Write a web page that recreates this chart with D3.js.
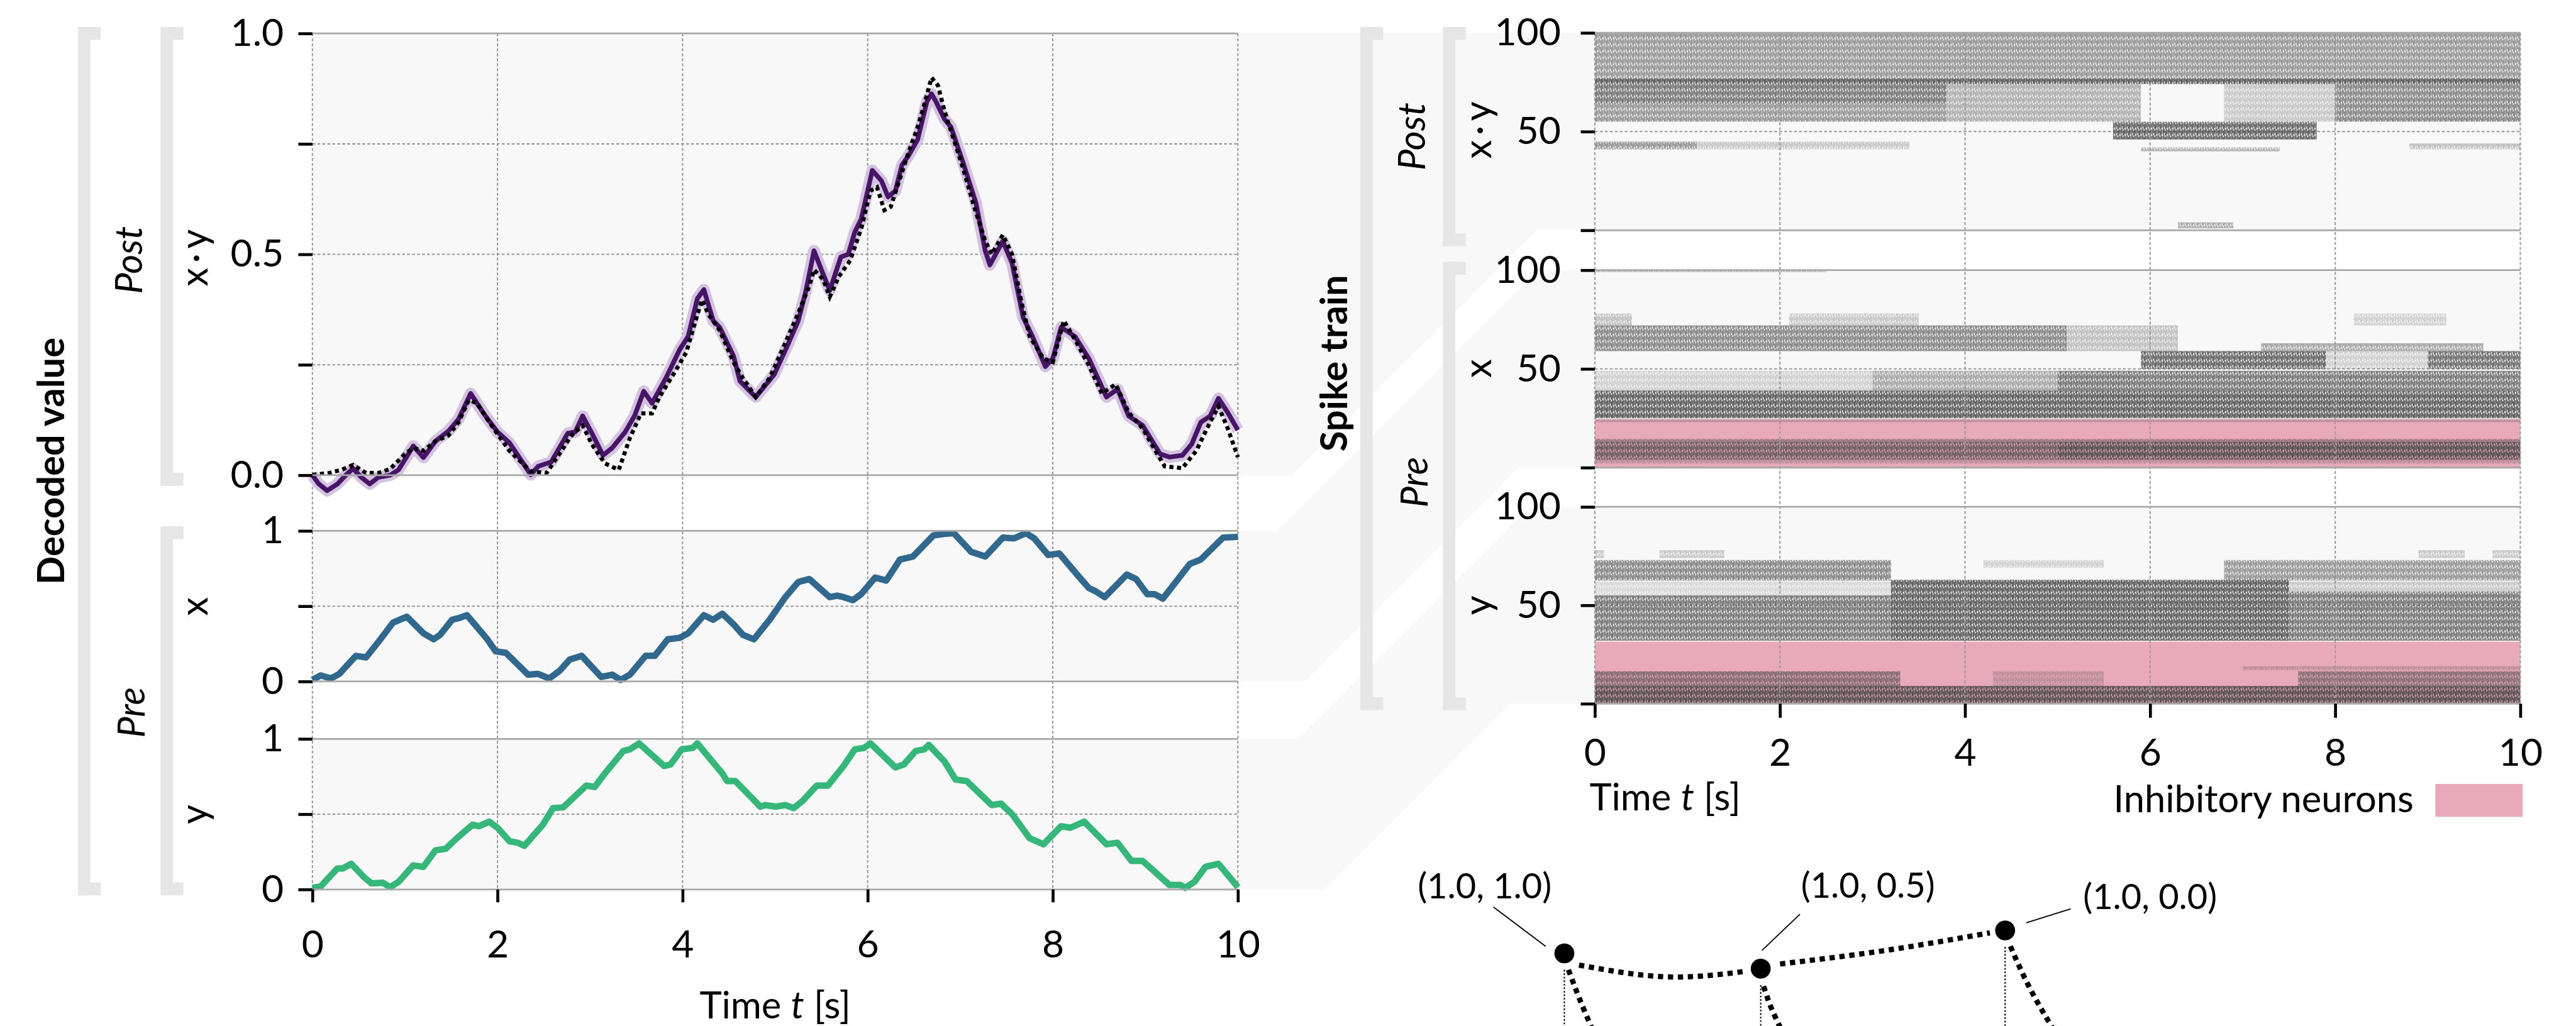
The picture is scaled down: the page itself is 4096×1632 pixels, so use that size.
<!DOCTYPE html>
<html>
<head>
<meta charset="utf-8">
<script src="https://cdn.jsdelivr.net/npm/d3@7"></script>
<style>
body { margin: 0; background: #fff; }
svg { display: block; }
</style>
</head>
<body>
<script>
// time axis shared by all panels
var timeTicks = [0, 2, 4, 6, 8, 10];

// pre-synaptic inputs x and y [t, value]
var xTrace = [[0,0.01],[0.09,0.04],[0.2,0.02],[0.29,0.05],[0.47,0.17],[0.58,0.16],[0.71,0.26],[0.87,0.39],[1.02,0.43],[1.2,0.32],[1.31,0.28],[1.38,0.31],[1.51,0.41],[1.58,0.42],[1.67,0.44],[1.89,0.28],[1.98,0.2],[2.09,0.19],[2.33,0.045],[2.44,0.05],[2.56,0.02],[2.67,0.07],[2.78,0.145],[2.91,0.17],[3.12,0.03],[3.24,0.045],[3.33,0.01],[3.43,0.045],[3.6,0.17],[3.7,0.17],[3.84,0.28],[3.97,0.29],[4.06,0.32],[4.23,0.44],[4.33,0.41],[4.43,0.45],[4.55,0.38],[4.65,0.31],[4.77,0.28],[4.94,0.41],[5.11,0.56],[5.25,0.66],[5.37,0.68],[5.59,0.56],[5.67,0.57],[5.74,0.56],[5.84,0.54],[5.93,0.58],[6.08,0.69],[6.2,0.67],[6.35,0.81],[6.49,0.83],[6.71,0.97],[6.83,0.98],[6.93,0.985],[7.12,0.86],[7.27,0.83],[7.46,0.955],[7.58,0.95],[7.71,0.985],[7.8,0.95],[7.95,0.84],[8.07,0.85],[8.29,0.69],[8.39,0.62],[8.46,0.6],[8.56,0.56],[8.8,0.71],[8.9,0.68],[9.02,0.58],[9.1,0.58],[9.19,0.55],[9.48,0.78],[9.6,0.81],[9.84,0.955],[10,0.96]];

var yTrace = [[0,0.01],[0.09,0.02],[0.27,0.14],[0.33,0.14],[0.42,0.17],[0.56,0.08],[0.64,0.04],[0.76,0.045],[0.84,0.015],[0.93,0.05],[1.09,0.16],[1.2,0.15],[1.33,0.26],[1.44,0.27],[1.56,0.34],[1.73,0.43],[1.8,0.42],[1.91,0.45],[2,0.41],[2.13,0.32],[2.22,0.31],[2.29,0.29],[2.49,0.43],[2.6,0.54],[2.71,0.545],[2.96,0.69],[3.05,0.68],[3.16,0.77],[3.36,0.92],[3.43,0.93],[3.53,0.97],[3.8,0.82],[3.87,0.83],[3.99,0.93],[4.11,0.94],[4.16,0.97],[4.28,0.88],[4.43,0.77],[4.48,0.72],[4.57,0.72],[4.84,0.55],[4.89,0.56],[5.01,0.55],[5.11,0.56],[5.2,0.54],[5.3,0.59],[5.45,0.69],[5.57,0.69],[5.74,0.82],[5.86,0.93],[5.96,0.94],[6.03,0.97],[6.3,0.81],[6.39,0.83],[6.52,0.92],[6.61,0.93],[6.66,0.96],[6.83,0.85],[6.95,0.73],[7.07,0.72],[7.34,0.56],[7.44,0.57],[7.56,0.5],[7.75,0.34],[7.9,0.3],[8.09,0.42],[8.19,0.41],[8.34,0.45],[8.58,0.3],[8.7,0.31],[8.85,0.19],[8.97,0.19],[9.26,0.03],[9.38,0.03],[9.43,0.01],[9.53,0.05],[9.65,0.15],[9.79,0.17],[10,0.015]];

// post-synaptic decoded value and the dotted target
var decodedTrace = [[0,0],[0.07,-0.02],[0.16,-0.035],[0.27,-0.02],[0.36,0],[0.44,0.015],[0.53,-0.005],[0.62,-0.02],[0.71,-0.005],[0.84,0],[0.93,0.012],[1.09,0.066],[1.2,0.04],[1.33,0.077],[1.47,0.1],[1.58,0.127],[1.71,0.185],[1.8,0.156],[1.87,0.134],[2,0.098],[2.13,0.073],[2.36,0.001],[2.44,0.02],[2.58,0.03],[2.76,0.095],[2.84,0.098],[2.92,0.134],[3.02,0.095],[3.14,0.045],[3.24,0.062],[3.38,0.098],[3.48,0.134],[3.58,0.19],[3.67,0.163],[3.82,0.22],[3.97,0.285],[4.06,0.314],[4.16,0.4],[4.23,0.42],[4.33,0.35],[4.4,0.335],[4.55,0.27],[4.62,0.213],[4.79,0.177],[4.99,0.228],[5.13,0.292],[5.25,0.35],[5.33,0.415],[5.42,0.508],[5.5,0.465],[5.59,0.418],[5.71,0.494],[5.79,0.5],[5.86,0.55],[5.93,0.58],[6.05,0.69],[6.15,0.666],[6.22,0.63],[6.3,0.644],[6.37,0.702],[6.44,0.723],[6.54,0.76],[6.64,0.846],[6.69,0.863],[6.73,0.849],[6.83,0.806],[6.9,0.788],[7.03,0.708],[7.17,0.616],[7.27,0.508],[7.32,0.476],[7.46,0.53],[7.56,0.48],[7.68,0.357],[7.78,0.314],[7.92,0.246],[8,0.264],[8.09,0.335],[8.24,0.314],[8.39,0.264],[8.58,0.177],[8.7,0.195],[8.82,0.134],[8.97,0.113],[9.16,0.048],[9.26,0.041],[9.4,0.045],[9.5,0.07],[9.6,0.12],[9.7,0.134],[9.79,0.174],[9.89,0.142],[10,0.102]];

var targetTrace = [[0,0.001],[0.18,0.005],[0.31,0.012],[0.44,0.023],[0.58,0.005],[0.71,0.005],[0.84,0.014],[1,0.048],[1.09,0.062],[1.2,0.055],[1.33,0.077],[1.47,0.09],[1.58,0.12],[1.69,0.17],[1.78,0.163],[1.91,0.12],[2.13,0.055],[2.36,0.009],[2.53,0.005],[2.69,0.055],[2.8,0.09],[2.92,0.113],[3.02,0.07],[3.16,0.027],[3.31,0.012],[3.43,0.084],[3.55,0.14],[3.67,0.14],[3.75,0.177],[3.92,0.235],[4.04,0.278],[4.14,0.35],[4.21,0.397],[4.28,0.364],[4.4,0.328],[4.55,0.256],[4.65,0.22],[4.79,0.177],[4.94,0.22],[5.08,0.285],[5.23,0.357],[5.37,0.429],[5.42,0.465],[5.52,0.443],[5.59,0.404],[5.69,0.45],[5.81,0.486],[5.93,0.558],[6.03,0.644],[6.1,0.652],[6.18,0.6],[6.25,0.608],[6.35,0.673],[6.44,0.73],[6.54,0.788],[6.61,0.838],[6.69,0.9],[6.76,0.882],[6.83,0.824],[6.93,0.76],[7.03,0.695],[7.15,0.608],[7.27,0.53],[7.34,0.5],[7.46,0.544],[7.56,0.5],[7.66,0.393],[7.75,0.314],[7.9,0.264],[8,0.256],[8.12,0.35],[8.24,0.307],[8.39,0.249],[8.53,0.185],[8.68,0.206],[8.82,0.142],[8.97,0.106],[9.11,0.055],[9.21,0.02],[9.4,0.016],[9.55,0.055],[9.7,0.12],[9.79,0.156],[9.89,0.106],[10,0.041]];

// spike raster, as density bands: [neuronFrom, neuronTo, tFrom, tTo, density]
var postBands = [[77,100,0,10,0.6],[74,77,0,10,0.95],[64,74,0,3.8,0.8],[55,64,0,3.8,0.6],[55,74,3.8,5.9,0.45],[55,74,6.8,8,0.3],[55,74,8,10,0.7],[46,55,5.6,7.8,0.9],[41,45,0,1.1,0.6],[41,45,1.1,3.4,0.3],[40,42,5.9,7.4,0.45],[41,44,8.8,10,0.35],[1,4,6.3,6.9,0.5]];
var xBands = [[99,100,0,2.5,0.45],[72,78,0,0.4,0.35],[72,78,2.1,3.5,0.3],[72,78,8.2,9.2,0.25],[59,72,0,5.1,0.7],[59,72,5.1,6.3,0.35],[59,63,7.2,9.6,0.5],[50,59,5.9,7.9,0.9],[50,59,7.9,9,0.25],[50,59,9,10,0.85],[39,49,0,3,0.25],[39,49,3,5,0.5],[39,49,5,10,0.8],[25,39,0,10,0.95],[23,24.5,0,10,0.3],[13,14.5,0,10,0.55],[4,13,0,5,0.85],[4,13,5,10,1],[2,4,0,10,0.3]];
var yBands = [[74,78,0,0.1,0.3],[74,78,0.7,1.4,0.3],[74,78,8.9,9.4,0.3],[74,78,9.7,10,0.3],[62.5,73,0,3.2,0.7],[69,73,4.2,5.5,0.25],[62.5,73,6.8,10,0.6],[55,62,0,3.2,0.2],[32,55,0,3.2,0.8],[32,63,3.2,7.5,0.95],[32,57,7.5,10,0.8],[57,62,7.5,10,0.3],[17,19,7,10,0.3],[9,16.5,0,3.3,0.7],[9,16.5,4.3,5.5,0.3],[9,16.5,7.6,10,0.65],[0,9,0,10,1]];

// inhibitory neuron ranges per ensemble
var xInhibitory = [0, 24.6];
var yInhibitory = [0, 31.5];

// lower schematic: nodes and their labels
var nodeLabels = ["(1.0, 1.0)", "(1.0, 0.5)", "(1.0, 0.0)"];
var nodeU = [0, 0.4455, 1];
var nodeV = [0.76, 0.6, 1];

// ---------------------------------------------------------------------------
var W = 4395, H = 1751;
var svg = d3.select("body").append("svg")
  .attr("width", 4096).attr("height", 1632)
  .attr("viewBox", "0 0 " + W + " " + H);

var font = "Lato, 'Open Sans', sans-serif";
var gridColor = "#9a9a9a", spineColor = "#a8a8a8", bgColor = "#f8f8f8";

var defs = svg.append("defs");
var pat = defs.append("pattern").attr("id", "spikes")
  .attr("patternUnits", "userSpaceOnUse").attr("width", 9).attr("height", 11);
[[0.8,0,11],[2.5,0,7],[4.2,3,11],[5.9,0,11],[7.6,1,9]].forEach(function(l) {
  pat.append("line").attr("x1", l[0]).attr("x2", l[0]).attr("y1", l[1]).attr("y2", l[2])
    .attr("stroke", "#4a4a4a").attr("stroke-width", 1.6);
});

var tLeft = d3.scaleLinear().domain([0, 10]).range([533, 2112]);
var tRight = d3.scaleLinear().domain([0, 10]).range([2721, 4300]);

var leftPanels = [
  {top: 57, bottom: 811, ticks: [0, 0.25, 0.5, 0.75, 1], labeled: [0, 0.5, 1], fmt: d3.format(".1f"), grid: [0.25, 0.5, 0.75]},
  {top: 906, bottom: 1163, ticks: [0, 0.5, 1], labeled: [0, 1], fmt: d3.format("d"), grid: [0.5]},
  {top: 1261, bottom: 1518, ticks: [0, 0.5, 1], labeled: [0, 1], fmt: d3.format("d"), grid: [0.5]}
];
leftPanels.forEach(function(p) { p.y = d3.scaleLinear().domain([0, 1]).range([p.bottom, p.top]); });

var rightPanels = [
  {top: 56, bottom: 393, bands: postBands, inhib: null},
  {top: 461, bottom: 798, bands: xBands, inhib: xInhibitory},
  {top: 865, bottom: 1201, bands: yBands, inhib: yInhibitory}
];
rightPanels.forEach(function(p) { p.y = d3.scaleLinear().domain([0, 100]).range([p.bottom, p.top]); });

// light connectors between left and right panels
var connectorBreaks = [[2112, 2204], [2179, 2226], [2215, 2260]];
var conn = svg.append("g");
leftPanels.forEach(function(lp, i) {
  var rp = rightPanels[i], b = connectorBreaks[i];
  var topStart = i === 0 ? 2112 : b[0];
  var dTop = lp.top - rp.top, dBot = lp.bottom - rp.bottom;
  var pts = [[2112, lp.top], [topStart, lp.top], [topStart + dTop, rp.top], [2721, rp.top],
             [2721, rp.bottom], [b[1] + dBot, rp.bottom], [b[1], lp.bottom], [2112, lp.bottom]];
  conn.append("path").attr("d", "M" + pts.join("L") + "Z").attr("fill", bgColor);
});

// brackets
function bracket(x, y0, y1) {
  var g = svg.append("g").attr("fill", "#e6e6e6");
  g.append("rect").attr("x", x).attr("y", y0).attr("width", 21).attr("height", y1 - y0);
  g.append("rect").attr("x", x).attr("y", y0).attr("width", 39).attr("height", 22);
  g.append("rect").attr("x", x).attr("y", y1 - 22).attr("width", 39).attr("height", 22);
}
bracket(133, 46, 1528); bracket(274, 46, 829); bracket(274, 898, 1528);
bracket(2321, 46, 1212); bracket(2462, 46, 420); bracket(2462, 447, 1212);

// panel backgrounds
leftPanels.forEach(function(p) {
  svg.append("rect").attr("x", tLeft(0)).attr("y", p.top).attr("width", tLeft(10) - tLeft(0))
    .attr("height", p.bottom - p.top).attr("fill", bgColor);
});
rightPanels.forEach(function(p) {
  svg.append("rect").attr("x", tRight(0)).attr("y", p.top).attr("width", tRight(10) - tRight(0))
    .attr("height", p.bottom - p.top).attr("fill", bgColor);
});

// grids
function hgrid(scale, vals, x0, x1) {
  svg.append("g").selectAll("line").data(vals).join("line")
    .attr("x1", x0).attr("x2", x1).attr("y1", scale).attr("y2", scale)
    .attr("stroke", gridColor).attr("stroke-width", 2.2).attr("stroke-dasharray", "5 3.5");
}
leftPanels.forEach(function(p) { hgrid(p.y, p.grid, tLeft(0), tLeft(10)); });
rightPanels.forEach(function(p) { hgrid(p.y, [50], tRight(0), tRight(10)); });

// raster: inhibitory highlight then spike density
rightPanels.forEach(function(p) {
  if (p.inhib) {
    svg.append("rect").attr("x", tRight(0)).attr("width", tRight(10) - tRight(0))
      .attr("y", p.y(p.inhib[1])).attr("height", p.y(p.inhib[0]) - p.y(p.inhib[1]))
      .attr("fill", "#e8aab8");
  }
  svg.append("g").selectAll("rect").data(p.bands).join("rect")
    .attr("x", function(d) { return tRight(d[2]); })
    .attr("width", function(d) { return tRight(d[3]) - tRight(d[2]); })
    .attr("y", function(d) { return p.y(d[1]); })
    .attr("height", function(d) { return p.y(d[0]) - p.y(d[1]); })
    .attr("fill", "url(#spikes)").attr("opacity", function(d) { return d[4]; });
});

function vgrid(scale, y0, y1) {
  svg.append("g").selectAll("line").data(timeTicks).join("line")
    .attr("x1", scale).attr("x2", scale).attr("y1", y0).attr("y2", y1)
    .attr("stroke", gridColor).attr("stroke-width", 2.2).attr("stroke-dasharray", "5 3.5");
}
vgrid(tLeft, 57, 1518);
vgrid(tRight, 56, 1201);

// traces
function lineFor(p) {
  return d3.line().x(function(d) { return tLeft(d[0]); }).y(function(d) { return p.y(d[1]); });
}
var post = leftPanels[0];
svg.append("path").attr("d", lineFor(post)(decodedTrace)).attr("fill", "none")
  .attr("stroke", "#d3c3df").attr("stroke-width", 20).attr("stroke-linejoin", "round");
svg.append("path").attr("d", lineFor(post)(decodedTrace)).attr("fill", "none")
  .attr("stroke", "#481467").attr("stroke-width", 8).attr("stroke-linejoin", "round");
svg.append("path").attr("d", lineFor(post)(targetTrace)).attr("fill", "none")
  .attr("stroke", "#000").attr("stroke-width", 7).attr("stroke-dasharray", "7 6");
svg.append("path").attr("d", lineFor(leftPanels[1])(xTrace)).attr("fill", "none")
  .attr("stroke", "#31688e").attr("stroke-width", 11).attr("stroke-linejoin", "round");
svg.append("path").attr("d", lineFor(leftPanels[2])(yTrace)).attr("fill", "none")
  .attr("stroke", "#35b779").attr("stroke-width", 11).attr("stroke-linejoin", "round");

// spines (top / bottom)
function spines(x0, x1, p) {
  svg.append("g").selectAll("line").data([p.top, p.bottom]).join("line")
    .attr("x1", x0).attr("x2", x1).attr("y1", function(d) { return d; }).attr("y2", function(d) { return d; })
    .attr("stroke", spineColor).attr("stroke-width", 3);
}
leftPanels.forEach(function(p) { spines(tLeft(0), tLeft(10), p); });
rightPanels.forEach(function(p) { spines(tRight(0), tRight(10), p); });

// axes
function styleAxis(g) {
  g.attr("font-size", 65).attr("font-family", font);
  g.select(".domain").remove();
  g.selectAll(".tick line").attr("stroke", "#000").attr("stroke-width", 5);
  g.selectAll(".tick text").attr("fill", "#000");
}
leftPanels.forEach(function(p) {
  var ax = d3.axisLeft(p.y).tickValues(p.ticks).tickSize(24).tickPadding(25)
    .tickFormat(function(v) { return p.labeled.indexOf(v) >= 0 ? p.fmt(v) : ""; });
  svg.append("g").attr("transform", "translate(" + tLeft(0) + ",0)").call(ax).call(styleAxis);
});
rightPanels.forEach(function(p) {
  var ax = d3.axisLeft(p.y).tickValues([0, 50, 100]).tickSize(24).tickPadding(34)
    .tickFormat(function(v) { return v === 0 ? "" : d3.format("d")(v); });
  svg.append("g").attr("transform", "translate(" + tRight(0) + ",0)").call(ax).call(styleAxis);
});
svg.append("g").attr("transform", "translate(0,1518)")
  .call(d3.axisBottom(tLeft).tickValues(timeTicks).tickSize(22).tickPadding(48)).call(styleAxis);
svg.append("g").attr("transform", "translate(0,1201)")
  .call(d3.axisBottom(tRight).tickValues(timeTicks).tickSize(24).tickPadding(36)).call(styleAxis);

// axis titles
function timeLabel(x, y, anchor) {
  var t = svg.append("text").attr("x", x).attr("y", y).attr("text-anchor", anchor)
    .attr("font-family", font).attr("font-size", 64);
  t.append("tspan").text("Time ");
  t.append("tspan").attr("font-style", "italic").text("t");
  t.append("tspan").text(" [s]");
}
timeLabel(tLeft(5), 1738, "middle");
timeLabel(2712, 1383, "start");

var sideLabels = [
  {text: "Decoded value", x: 109, y: 787, weight: 700},
  {text: "Post", x: 242, y: 444, italic: true},
  {text: "x\u2009\u00b7\u2009y", x: 354, y: 440},
  {text: "Pre", x: 247, y: 1216, italic: true},
  {text: "x", x: 354, y: 1035},
  {text: "y", x: 354, y: 1390},
  {text: "Spike train", x: 2298, y: 620, weight: 700},
  {text: "Post", x: 2431, y: 233, italic: true},
  {text: "x\u2009\u00b7\u2009y", x: 2544, y: 222},
  {text: "x", x: 2544, y: 629},
  {text: "Pre", x: 2436, y: 823, italic: true},
  {text: "y", x: 2544, y: 1033}
];
svg.append("g").selectAll("text").data(sideLabels).join("text")
  .attr("transform", function(d) { return "translate(" + d.x + "," + d.y + ") rotate(-90)"; })
  .attr("text-anchor", "middle").attr("font-family", font).attr("font-size", 64)
  .attr("font-weight", function(d) { return d.weight || 400; })
  .attr("font-style", function(d) { return d.italic ? "italic" : "normal"; })
  .text(function(d) { return d.text; });

// legend
svg.append("text").attr("x", 4118).attr("y", 1386).attr("text-anchor", "end")
  .attr("font-family", font).attr("font-size", 64).text("Inhibitory neurons");
svg.append("rect").attr("x", 4155).attr("y", 1338).attr("width", 149).attr("height", 56).attr("fill", "#e8aab8");

// schematic below the raster
var dX = d3.scaleLinear().domain([0, 1]).range([2669, 3421]);
var dY = d3.scaleLinear().domain([0, 1]).range([1751, 1588]);
var nodes = nodeLabels.map(function(l, i) { return {label: l, x: dX(nodeU[i]), y: dY(nodeV[i])}; });
var curve = d3.line().curve(d3.curveNatural);
var n = nodes;
var thick = [
  [[n[0].x + 25, n[0].y + 20], [n[0].x + 172, n[0].y + 40], [n[1].x - 29, n[1].y + 5]],
  [[n[1].x + 33, n[1].y - 8], [n[1].x + 212, n[1].y - 31], [n[2].x - 26, n[2].y + 4]],
  [[n[0].x + 7, n[0].y + 28], [n[0].x + 26, n[0].y + 78], [n[0].x + 50, n[0].y + 135]],
  [[n[1].x + 5, n[1].y + 30], [n[1].x + 18, n[1].y + 67], [n[1].x + 38, n[1].y + 110]],
  [[n[2].x + 9, n[2].y + 27], [n[2].x + 44, n[2].y + 102], [n[2].x + 92, n[2].y + 185]]
];
svg.append("g").selectAll("path").data(thick).join("path")
  .attr("d", curve).attr("fill", "none").attr("stroke", "#000")
  .attr("stroke-width", 9).attr("stroke-dasharray", "9 8");
svg.append("g").selectAll("line").data(nodes).join("line")
  .attr("x1", function(d) { return d.x; }).attr("x2", function(d) { return d.x; })
  .attr("y1", function(d) { return d.y + 28; }).attr("y2", H)
  .attr("stroke", "#000").attr("stroke-width", 2.2).attr("stroke-dasharray", "3 3");
svg.append("g").selectAll("circle").data(nodes).join("circle")
  .attr("cx", function(d) { return d.x; }).attr("cy", function(d) { return d.y; }).attr("r", 17).attr("fill", "#000");

var leaders = [[-121, -79, -32, -12], [67, -93, 2, -31], [112, -37, 36, -13]];
var labelPos = [[-136, -94, "middle"], [183, -121, "middle"], [133, -36, "start"]];
svg.append("g").selectAll("line").data(nodes).join("line")
  .attr("x1", function(d, i) { return d.x + leaders[i][0]; }).attr("y1", function(d, i) { return d.y + leaders[i][1]; })
  .attr("x2", function(d, i) { return d.x + leaders[i][2]; }).attr("y2", function(d, i) { return d.y + leaders[i][3]; })
  .attr("stroke", "#000").attr("stroke-width", 2);
svg.append("g").selectAll("text").data(nodes).join("text")
  .attr("x", function(d, i) { return d.x + labelPos[i][0]; })
  .attr("y", function(d, i) { return d.y + labelPos[i][1]; })
  .attr("text-anchor", function(d, i) { return labelPos[i][2]; })
  .attr("font-family", font).attr("font-size", 60)
  .text(function(d) { return d.label; });
</script>
</body>
</html>
